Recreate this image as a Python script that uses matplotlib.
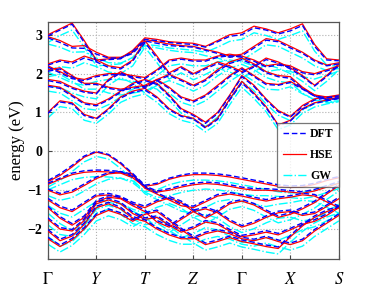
import numpy as np
import matplotlib
matplotlib.use('Agg')
import matplotlib.pyplot as plt

plt.rcParams['font.family'] = ['Liberation Serif', 'DejaVu Serif']
plt.rcParams['mathtext.fontset'] = 'stix'

# k-path coordinates (segment units) and high-symmetry labels
kpath = [0.0, 0.25, 0.5, 0.75, 1.0, 1.25, 1.5, 1.75, 2.0, 2.25, 2.5, 2.75, 3.0,
         3.25, 3.5, 3.75, 4.0, 4.25, 4.5, 4.75, 5.0, 5.25, 5.5, 5.75, 6.0]
kticks = [0, 1, 2, 3, 4, 5, 6]
klabels = [r'$\Gamma$', r'$Y$', r'$T$', r'$Z$', r'$\Gamma$', r'$X$', r'$S$']

# ---- HSE bands (eV) ----
hse_c1 = [3.00, 3.15, 3.30, 2.85, 2.35, 2.38, 2.40, 2.60, 2.92, 2.88, 2.82, 2.80, 2.78, 2.70, 2.85, 3.00, 3.05, 3.22, 3.15, 3.05, 3.15, 3.28, 2.75, 2.38, 2.35]
hse_c2 = [2.95, 2.85, 2.70, 2.72, 2.55, 2.42, 2.42, 2.55, 2.88, 2.82, 2.76, 2.72, 2.70, 2.62, 2.55, 2.45, 2.50, 2.70, 2.90, 2.85, 2.70, 2.55, 2.35, 2.22, 2.28]
hse_c3 = [2.25, 2.35, 2.30, 2.45, 2.35, 2.20, 2.15, 2.35, 2.85, 2.45, 2.02, 2.18, 2.00, 2.15, 2.30, 2.20, 2.05, 2.20, 2.40, 2.30, 2.15, 1.95, 1.70, 1.95, 2.25]
hse_c4 = [1.85, 1.80, 1.65, 1.55, 1.50, 1.85, 2.05, 1.90, 1.65, 1.85, 1.98, 1.85, 1.70, 1.85, 2.10, 2.30, 2.40, 2.25, 2.05, 1.95, 1.92, 1.65, 1.45, 1.40, 1.42]
hse_c5 = [2.10, 2.15, 1.95, 1.75, 1.75, 1.65, 1.60, 1.65, 1.70, 1.85, 1.65, 1.40, 1.30, 1.45, 1.70, 1.95, 2.15, 1.95, 1.75, 1.72, 1.80, 1.62, 1.45, 1.35, 1.38]
hse_c6 = [1.00, 1.30, 1.25, 0.95, 0.85, 1.10, 1.40, 1.55, 1.62, 1.40, 1.10, 0.92, 0.85, 0.62, 0.85, 1.35, 1.80, 1.50, 1.15, 0.68, 0.80, 1.10, 1.25, 1.32, 1.38]
hse_c7 = [1.70, 1.65, 1.45, 1.25, 1.20, 1.35, 1.55, 1.75, 1.85, 1.75, 1.45, 1.10, 0.95, 0.75, 1.00, 1.45, 1.95, 1.70, 1.35, 1.05, 0.90, 1.18, 1.35, 1.40, 1.45]
hse_c8 = [2.20, 2.05, 1.90, 1.85, 1.95, 2.00, 2.00, 1.95, 1.90, 2.10, 2.35, 2.40, 2.35, 2.35, 2.45, 2.50, 2.45, 2.35, 2.20, 2.25, 2.20, 2.05, 2.00, 2.10, 2.20]
hse_v1 = [-0.78, -0.62, -0.40, -0.15, -0.02, -0.10, -0.32, -0.60, -0.90, -0.85, -0.72, -0.64, -0.60, -0.60, -0.62, -0.66, -0.72, -0.78, -0.84, -0.90, -0.93, -0.92, -0.85, -0.75, -0.68]
hse_v2 = [-0.85, -0.72, -0.60, -0.54, -0.52, -0.53, -0.56, -0.68, -0.92, -1.05, -1.00, -0.92, -0.86, -0.83, -0.85, -0.90, -0.96, -1.00, -1.00, -1.02, -1.05, -1.08, -1.02, -0.92, -0.82]
hse_v3 = [-1.00, -1.12, -1.05, -0.88, -0.70, -0.58, -0.55, -0.62, -0.95, -1.10, -1.25, -1.40, -1.45, -1.30, -1.15, -1.10, -1.15, -1.22, -1.28, -1.22, -1.18, -1.12, -1.15, -1.30, -1.45]
hse_v4 = [-1.25, -1.45, -1.55, -1.35, -1.15, -1.12, -1.20, -1.35, -1.45, -1.30, -1.20, -1.32, -1.55, -1.72, -1.55, -1.35, -1.28, -1.38, -1.55, -1.70, -1.62, -1.48, -1.32, -1.10, -0.88]
hse_v5 = [-1.45, -1.72, -1.90, -1.70, -1.30, -1.18, -1.22, -1.40, -1.55, -1.82, -1.95, -1.75, -1.55, -1.48, -1.58, -1.80, -1.95, -1.85, -1.70, -1.58, -1.55, -1.65, -1.60, -1.42, -1.22]
hse_v6 = [-1.75, -2.00, -2.05, -1.78, -1.35, -1.25, -1.35, -1.60, -1.75, -1.70, -1.90, -2.08, -1.98, -1.82, -1.88, -2.05, -2.20, -2.15, -2.08, -2.15, -2.02, -1.88, -1.80, -1.65, -1.45]
hse_v7 = [-2.05, -2.30, -2.18, -1.88, -1.45, -1.35, -1.48, -1.72, -1.80, -2.00, -2.15, -2.25, -2.25, -2.12, -2.05, -2.12, -2.25, -2.30, -2.22, -2.32, -2.40, -2.30, -2.05, -1.85, -1.65]
hse_v8 = [-2.25, -2.45, -2.28, -2.00, -1.65, -1.52, -1.62, -1.80, -1.62, -1.55, -1.78, -2.02, -2.22, -2.40, -2.32, -2.22, -2.32, -2.38, -2.45, -2.50, -2.20, -1.92, -1.70, -1.55, -1.45]

# ---- DFT bands (eV) ----
dft_c1 = [2.97, 3.12, 3.27, 2.80, 2.32, 2.36, 2.38, 2.57, 2.88, 2.85, 2.80, 2.77, 2.75, 2.68, 2.82, 2.96, 3.00, 3.18, 3.12, 3.02, 3.10, 3.24, 2.70, 2.35, 2.33]
dft_c2 = [2.92, 2.80, 2.66, 2.65, 2.50, 2.40, 2.40, 2.52, 2.84, 2.78, 2.72, 2.70, 2.68, 2.60, 2.52, 2.42, 2.46, 2.66, 2.86, 2.82, 2.66, 2.52, 2.32, 2.20, 2.25]
dft_c3 = [2.22, 2.32, 2.26, 2.40, 2.30, 2.16, 2.12, 2.32, 2.80, 2.40, 1.98, 2.15, 1.97, 2.12, 2.26, 2.16, 2.02, 2.17, 2.36, 2.27, 2.12, 1.92, 1.68, 1.92, 2.22]
dft_c4 = [1.82, 1.76, 1.62, 1.52, 1.48, 1.82, 2.02, 1.87, 1.62, 1.82, 1.95, 1.82, 1.67, 1.82, 2.06, 2.26, 2.36, 2.22, 2.02, 1.92, 1.88, 1.62, 1.42, 1.38, 1.40]
dft_c5 = [2.06, 2.12, 1.92, 1.72, 1.72, 1.62, 1.57, 1.62, 1.67, 1.82, 1.62, 1.37, 1.27, 1.42, 1.66, 1.92, 2.12, 1.92, 1.72, 1.70, 1.77, 1.60, 1.42, 1.33, 1.36]
dft_c6 = [0.98, 1.27, 1.22, 0.92, 0.83, 1.07, 1.37, 1.52, 1.58, 1.37, 1.07, 0.90, 0.83, 0.60, 0.82, 1.32, 1.76, 1.47, 1.12, 0.66, 0.78, 1.08, 1.23, 1.30, 1.36]
dft_c7 = [1.67, 1.62, 1.42, 1.22, 1.17, 1.32, 1.52, 1.72, 1.82, 1.72, 1.42, 1.07, 0.92, 0.72, 0.97, 1.42, 1.92, 1.67, 1.32, 1.02, 0.88, 1.15, 1.32, 1.38, 1.43]
dft_c8 = [2.17, 2.02, 1.87, 1.82, 1.92, 1.97, 1.97, 1.92, 1.87, 2.07, 2.32, 2.37, 2.32, 2.32, 2.42, 2.46, 2.42, 2.32, 2.17, 2.22, 2.17, 2.02, 1.97, 2.07, 2.17]
dft_v1 = [-0.75, -0.58, -0.36, -0.12, 0.00, -0.08, -0.29, -0.57, -0.87, -0.82, -0.69, -0.61, -0.56, -0.56, -0.58, -0.62, -0.68, -0.74, -0.80, -0.86, -0.89, -0.88, -0.82, -0.72, -0.65]
dft_v2 = [-0.82, -0.69, -0.56, -0.50, -0.48, -0.49, -0.52, -0.65, -0.89, -1.02, -0.96, -0.88, -0.82, -0.79, -0.81, -0.86, -0.92, -0.96, -0.96, -0.98, -1.01, -1.04, -0.98, -0.88, -0.78]
dft_v3 = [-0.97, -1.08, -1.01, -0.84, -0.66, -0.55, -0.52, -0.59, -0.92, -1.07, -1.21, -1.36, -1.41, -1.26, -1.11, -1.06, -1.11, -1.18, -1.24, -1.18, -1.14, -1.08, -1.11, -1.26, -1.41]
dft_v4 = [-1.21, -1.41, -1.51, -1.31, -1.11, -1.08, -1.16, -1.31, -1.41, -1.26, -1.16, -1.28, -1.51, -1.68, -1.51, -1.31, -1.24, -1.34, -1.51, -1.66, -1.58, -1.44, -1.28, -1.06, -0.85]
dft_v5 = [-1.41, -1.68, -1.86, -1.66, -1.26, -1.14, -1.18, -1.36, -1.51, -1.78, -1.91, -1.71, -1.51, -1.44, -1.54, -1.76, -1.91, -1.81, -1.66, -1.54, -1.51, -1.61, -1.56, -1.38, -1.18]
dft_v6 = [-1.71, -1.96, -2.01, -1.74, -1.31, -1.21, -1.31, -1.56, -1.71, -1.66, -1.86, -2.04, -1.94, -1.78, -1.84, -2.01, -2.16, -2.11, -2.04, -2.11, -1.98, -1.84, -1.76, -1.61, -1.41]
dft_v7 = [-2.01, -2.26, -2.14, -1.84, -1.41, -1.31, -1.44, -1.68, -1.76, -1.96, -2.11, -2.21, -2.21, -2.08, -2.01, -2.08, -2.21, -2.26, -2.18, -2.28, -2.36, -2.26, -2.01, -1.81, -1.61]
dft_v8 = [-2.21, -2.41, -2.24, -1.96, -1.61, -1.48, -1.58, -1.76, -1.58, -1.51, -1.74, -1.98, -2.18, -2.36, -2.28, -2.18, -2.28, -2.34, -2.41, -2.46, -2.16, -1.88, -1.66, -1.51, -1.41]

# ---- GW bands (eV) ----
gw_c1 = [2.80, 2.98, 3.12, 2.68, 2.20, 2.22, 2.25, 2.42, 2.75, 2.72, 2.66, 2.63, 2.60, 2.55, 2.68, 2.83, 2.88, 3.05, 2.98, 2.88, 2.98, 3.10, 2.58, 2.22, 2.18]
gw_c2 = [2.76, 2.68, 2.55, 2.56, 2.40, 2.28, 2.27, 2.40, 2.72, 2.66, 2.60, 2.56, 2.54, 2.46, 2.40, 2.30, 2.34, 2.54, 2.74, 2.70, 2.55, 2.40, 2.20, 2.08, 2.13]
gw_c3 = [2.08, 2.18, 2.14, 2.28, 2.18, 2.04, 2.00, 2.20, 2.68, 2.28, 1.86, 2.02, 1.84, 1.98, 2.14, 2.04, 1.90, 2.04, 2.24, 2.14, 2.00, 1.80, 1.56, 1.80, 2.10]
gw_c4 = [1.68, 1.64, 1.50, 1.40, 1.35, 1.70, 1.90, 1.75, 1.50, 1.70, 1.82, 1.70, 1.55, 1.70, 1.94, 2.14, 2.24, 2.10, 1.90, 1.80, 1.76, 1.50, 1.32, 1.28, 1.30]
gw_c5 = [1.92, 1.98, 1.80, 1.60, 1.60, 1.50, 1.45, 1.50, 1.55, 1.70, 1.50, 1.26, 1.16, 1.30, 1.55, 1.80, 2.00, 1.80, 1.60, 1.58, 1.66, 1.48, 1.33, 1.25, 1.28]
gw_c6 = [0.86, 1.15, 1.10, 0.80, 0.72, 0.96, 1.26, 1.40, 1.48, 1.26, 0.97, 0.80, 0.72, 0.50, 0.72, 1.20, 1.65, 1.36, 1.02, 0.56, 0.68, 0.98, 1.14, 1.22, 1.28]
gw_c7 = [1.55, 1.50, 1.30, 1.10, 1.06, 1.20, 1.40, 1.60, 1.70, 1.60, 1.32, 0.98, 0.83, 0.64, 0.88, 1.32, 1.80, 1.56, 1.22, 0.93, 0.79, 1.06, 1.24, 1.30, 1.36]
gw_c8 = [2.04, 1.90, 1.76, 1.70, 1.80, 1.85, 1.85, 1.80, 1.76, 1.95, 2.20, 2.25, 2.20, 2.20, 2.30, 2.35, 2.30, 2.20, 2.05, 2.10, 2.06, 1.92, 1.86, 1.96, 2.06]
gw_v1 = [-0.92, -0.75, -0.52, -0.27, -0.13, -0.20, -0.44, -0.73, -1.04, -0.99, -0.86, -0.78, -0.74, -0.74, -0.76, -0.80, -0.86, -0.92, -0.98, -1.04, -1.07, -1.06, -0.99, -0.89, -0.82]
gw_v2 = [-0.99, -0.86, -0.73, -0.67, -0.65, -0.66, -0.69, -0.81, -1.05, -1.19, -1.14, -1.06, -1.00, -0.97, -0.99, -1.04, -1.10, -1.14, -1.14, -1.16, -1.19, -1.22, -1.16, -1.06, -0.96]
gw_v3 = [-1.14, -1.26, -1.19, -1.02, -0.84, -0.72, -0.69, -0.76, -1.09, -1.24, -1.39, -1.54, -1.59, -1.44, -1.29, -1.24, -1.29, -1.36, -1.42, -1.36, -1.32, -1.26, -1.29, -1.44, -1.59]
gw_v4 = [-1.39, -1.59, -1.69, -1.49, -1.29, -1.26, -1.34, -1.49, -1.59, -1.44, -1.34, -1.46, -1.69, -1.86, -1.69, -1.49, -1.42, -1.52, -1.69, -1.84, -1.76, -1.62, -1.46, -1.24, -1.02]
gw_v5 = [-1.59, -1.86, -2.04, -1.84, -1.44, -1.32, -1.36, -1.54, -1.69, -1.96, -2.09, -1.89, -1.69, -1.62, -1.72, -1.94, -2.09, -1.99, -1.84, -1.72, -1.69, -1.79, -1.74, -1.56, -1.36]
gw_v6 = [-1.89, -2.14, -2.19, -1.92, -1.49, -1.39, -1.49, -1.74, -1.89, -1.84, -2.04, -2.22, -2.12, -1.96, -2.02, -2.19, -2.34, -2.29, -2.22, -2.29, -2.16, -2.02, -1.94, -1.79, -1.59]
gw_v7 = [-2.19, -2.44, -2.32, -2.02, -1.59, -1.49, -1.62, -1.86, -1.94, -2.14, -2.29, -2.39, -2.39, -2.26, -2.19, -2.26, -2.39, -2.44, -2.36, -2.46, -2.54, -2.44, -2.19, -1.99, -1.79]
gw_v8 = [-2.39, -2.59, -2.42, -2.14, -1.79, -1.66, -1.76, -1.94, -1.76, -1.69, -1.92, -2.16, -2.36, -2.54, -2.46, -2.36, -2.46, -2.52, -2.59, -2.64, -2.34, -2.06, -1.84, -1.69, -1.59]

dft_bands = [dft_c1, dft_c2, dft_c3, dft_c4, dft_c5, dft_c6, dft_c7, dft_c8,
             dft_v1, dft_v2, dft_v3, dft_v4, dft_v5, dft_v6, dft_v7, dft_v8]
hse_bands = [hse_c1, hse_c2, hse_c3, hse_c4, hse_c5, hse_c6, hse_c7, hse_c8,
             hse_v1, hse_v2, hse_v3, hse_v4, hse_v5, hse_v6, hse_v7, hse_v8]
gw_bands = [gw_c1, gw_c2, gw_c3, gw_c4, gw_c5, gw_c6, gw_c7, gw_c8,
            gw_v1, gw_v2, gw_v3, gw_v4, gw_v5, gw_v6, gw_v7, gw_v8]

fig = plt.figure(figsize=(3.74, 2.92), dpi=100)
ax = fig.add_axes([0.128, 0.113, 0.778, 0.812])

for i, band in enumerate(gw_bands):
    ax.plot(kpath, band, color='cyan', ls='-.', lw=1.0, zorder=2,
            label='GW' if i == 0 else None)
for i, band in enumerate(hse_bands):
    ax.plot(kpath, band, color='red', ls='-', lw=0.9, zorder=3,
            label='HSE' if i == 0 else None)
for i, band in enumerate(dft_bands):
    ax.plot(kpath, band, color='blue', ls='--', lw=1.0, zorder=4,
            dashes=(4, 2), label='DFT' if i == 0 else None)

ax.set_xlim(0, 6)
ax.set_ylim(-2.77, 3.33)
ax.set_xticks(kticks)
ax.set_xticklabels(klabels, fontsize=12)
ax.set_yticks([-2, -1, 0, 1, 2, 3])
ax.set_yticklabels(['\u22122', '\u22121', '0', '1', '2', '3'],
                   fontsize=10, fontweight='bold')
ax.tick_params(axis='x', direction='in', length=3, pad=9, color='#444444')
ax.tick_params(axis='y', direction='in', length=3, pad=4, color='#444444')
ax.grid(True, ls=':', color='#b0b0b0', lw=0.8)
for sp in ax.spines.values():
    sp.set_color('#555555')
    sp.set_linewidth(0.9)

ax.set_ylabel('energy (eV)', fontsize=12, labelpad=2)

handles, labels = ax.get_legend_handles_labels()
order = [labels.index('DFT'), labels.index('HSE'), labels.index('GW')]
leg = ax.legend([handles[i] for i in order], [labels[i] for i in order],
                loc='upper right', bbox_to_anchor=(1.0, 0.575),
                borderaxespad=0, fancybox=False, handlelength=2.0,
                handletextpad=0.3, borderpad=0.45, labelspacing=0.75,
                prop={'weight': 'bold', 'size': 8.5})
leg.get_frame().set_edgecolor('#555555')
leg.get_frame().set_linewidth(0.9)
leg.set_zorder(10)

fig.savefig('out.png', dpi=100)
